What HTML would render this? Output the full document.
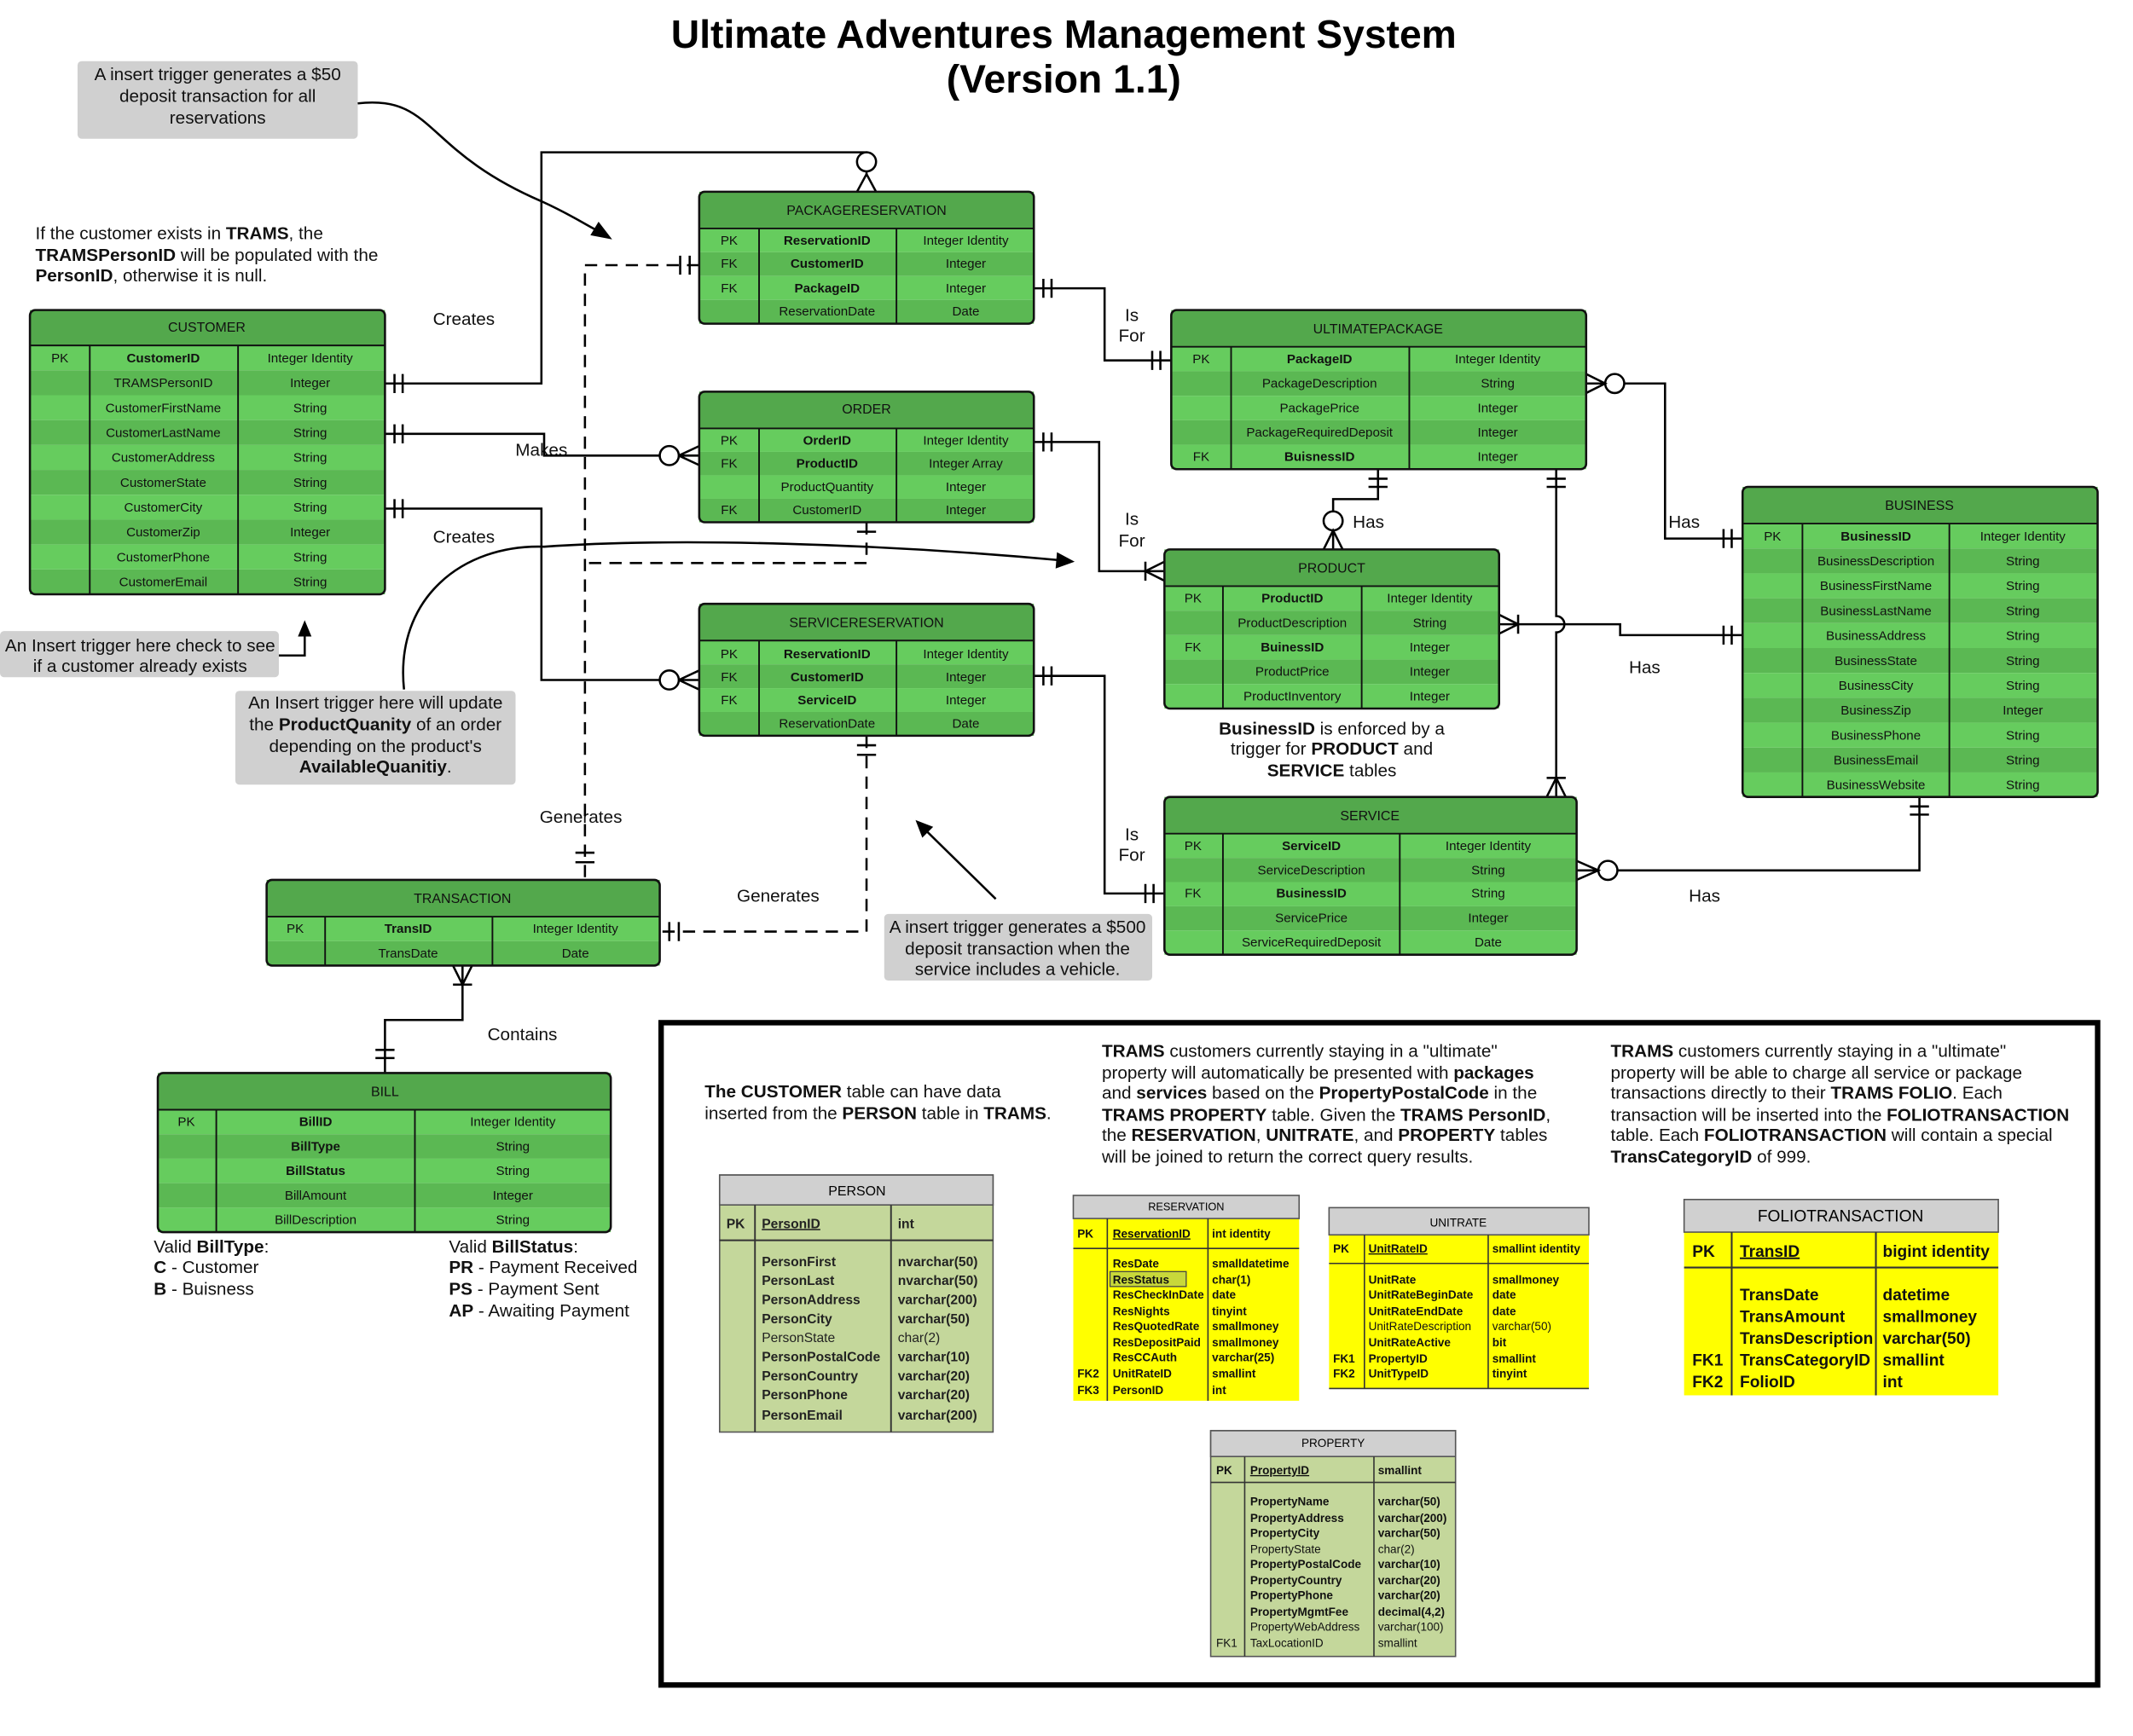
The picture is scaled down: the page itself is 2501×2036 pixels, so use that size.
<!DOCTYPE html>
<html><head><meta charset="utf-8"><style>
html,body{margin:0;padding:0;background:#fff;}
svg{display:block;font-family:"Liberation Sans",sans-serif;}
.t{font-size:9.5px;text-anchor:middle;fill:#111;}
.b{font-weight:bold;}
.h{font-size:10px;text-anchor:middle;fill:#111;}
.n{font-size:13px;fill:#111;}
.c{text-anchor:middle;}
.ln{fill:none;stroke:#000;stroke-width:1.6;}
.ds{fill:none;stroke:#000;stroke-width:1.6;stroke-dasharray:9,6;}
.L{fill:#66cc5e;}.D{fill:#5bb853;}.H{fill:#53a84c;}
.k{font-size:8.5px;font-weight:bold;fill:#111;}
.kn{font-size:8.5px;fill:#333;}
</style></head><body>
<svg width="2501" height="2036" viewBox="0 0 1568 1276.5" preserveAspectRatio="none">
<rect width="1568" height="1277" fill="#fff"/>
<text x="782" y="35" class="c" style="font-size:29px;font-weight:bold">Ultimate Adventures Management System</text>
<text x="782" y="68" class="c" style="font-size:29px;font-weight:bold">(Version 1.1)</text>

<!-- notes -->
<rect x="57" y="45" width="206" height="57" rx="3" fill="#d0d0d0"/>
<text class="n c" x="160" y="59">A insert trigger generates a $50</text>
<text class="n c" x="160" y="75">deposit transaction for all</text>
<text class="n c" x="160" y="91">reservations</text>
<text class="n" x="26" y="176">If the customer exists in <tspan class="b">TRAMS</tspan>, the</text>
<text class="n" x="26" y="192"><tspan class="b">TRAMSPersonID</tspan> will be populated with the</text>
<text class="n" x="26" y="207"><tspan class="b">PersonID</tspan>, otherwise it is null.</text>
<rect x="0" y="464" width="205" height="34" rx="3" fill="#d0d0d0"/>
<text class="n c" x="103" y="479">An Insert trigger here check to see</text>
<text class="n c" x="103" y="494">if a customer already exists</text>
<rect x="173" y="508" width="206" height="69" rx="3" fill="#d0d0d0"/>
<text class="n c" x="276" y="521">An Insert trigger here will update</text>
<text class="n c" x="276" y="537">the <tspan class="b">ProductQuanity</tspan> of an order</text>
<text class="n c" x="276" y="553">depending on the product's</text>
<text class="n c b" x="276" y="568">AvailableQuanitiy<tspan style="font-weight:normal">.</tspan></text>
<rect x="650" y="672" width="197" height="49" rx="3" fill="#d0d0d0"/>
<text class="n c" x="748" y="686">A insert trigger generates a $500</text>
<text class="n c" x="748" y="702">deposit transaction when the</text>
<text class="n c" x="748" y="717">service includes a vehicle.</text>
<text class="n c" x="979" y="540"><tspan class="b">BusinessID</tspan> is enforced by a</text>
<text class="n c" x="979" y="555">trigger for <tspan class="b">PRODUCT</tspan> and</text>
<text class="n c" x="979" y="571"><tspan class="b">SERVICE</tspan> tables</text>
<text class="n" x="113" y="921">Valid <tspan class="b">BillType</tspan>:</text>
<text class="n" x="113" y="936"><tspan class="b">C</tspan> - Customer</text>
<text class="n" x="113" y="952"><tspan class="b">B</tspan> - Buisness</text>
<text class="n" x="330" y="921">Valid <tspan class="b">BillStatus</tspan>:</text>
<text class="n" x="330" y="936"><tspan class="b">PR</tspan> - Payment Received</text>
<text class="n" x="330" y="952"><tspan class="b">PS</tspan> - Payment Sent</text>
<text class="n" x="330" y="968"><tspan class="b">AP</tspan> - Awaiting Payment</text>

<!-- relationship labels -->
<g class="n">
<text x="341" y="239" class="c">Creates</text>
<text x="398" y="335" class="c">Makes</text>
<text x="341" y="399" class="c">Creates</text>
<text x="832" y="236" class="c">Is</text><text x="832" y="251" class="c">For</text>
<text x="832" y="386" class="c">Is</text><text x="832" y="402" class="c">For</text>
<text x="832" y="618" class="c">Is</text><text x="832" y="633" class="c">For</text>
<text x="1006" y="388" class="c">Has</text>
<text x="1238" y="388" class="c">Has</text>
<text x="1209" y="495" class="c">Has</text>
<text x="1253" y="663" class="c">Has</text>
<text x="427" y="605" class="c">Generates</text>
<text x="572" y="663" class="c">Generates</text>
<text x="384" y="765" class="c">Contains</text>
</g>

<!-- connectors -->
<g class="ln">
<path d="M283 282 H398 V112 H637 V128"/>
<path d="M290 275 V289 M296 275 V289"/>
<circle cx="637" cy="119" r="7" fill="#fff"/>
<path d="M630 141 L637 128 L644 141"/>
<path d="M283 319 H400 V335 H485"/>
<path d="M290 312 V326 M296 312 V326"/>
<circle cx="492" cy="335" r="7" fill="#fff"/>
<path d="M499 335 H514 M499 335 L514 328 M499 335 L514 342"/>
<path d="M283 374 H398 V500 H485"/>
<path d="M290 367 V381 M296 367 V381"/>
<circle cx="492" cy="500" r="7" fill="#fff"/>
<path d="M499 500 H514 M499 500 L514 493 M499 500 L514 507"/>
<path d="M760 212 H812 V265 H861"/>
<path d="M767 205 V219 M773 205 V219 M847 258 V272 M853 258 V272"/>
<path d="M760 325 H808 V420 H856"/>
<path d="M767 318 V332 M773 318 V332 M842 420 L856 413 M842 420 L856 427 M842 413 V427"/>
<path d="M760 497 H812 V657 H856"/>
<path d="M767 490 V504 M773 490 V504 M842 650 V664 M848 650 V664"/>
<path d="M1013 345 V367 H980 V376"/>
<path d="M1006 352 H1020 M1006 358 H1020"/>
<circle cx="980" cy="383" r="7" fill="#fff"/>
<path d="M980 390 V404 M973 404 L980 390 L987 404"/>
<path d="M1144 345 V453 A6 6 0 0 1 1144 465 V586"/>
<path d="M1137 352 H1151 M1137 358 H1151 M1137 586 L1144 572 L1151 586 M1137 572 H1151"/>
<path d="M1166 282 H1180"/>
<circle cx="1187" cy="282" r="7" fill="#fff"/>
<path d="M1166 275 L1180 282 L1166 289 M1194 282 H1224 V396 H1281 M1267 389 V403 M1273 389 V403"/>
<path d="M1102 459 H1191 V467 H1281 M1102 452 L1116 459 L1102 466 M1116 452 V466 M1267 460 V474 M1273 460 V474"/>
<path d="M1159 640 H1175"/>
<circle cx="1182" cy="640" r="7" fill="#fff"/>
<path d="M1159 633 L1175 640 L1159 647 M1189 640 H1411 V586 M1404 593 H1418 M1404 599 H1418"/>
<path d="M340 710 V750 H283 V789 M333 710 L340 724 L347 710 M333 724 H347 M276 772 H290 M276 778 H290"/>
</g>
<g>
<path class="ds" d="M514 195 H430 V647"/>
<path class="ln" d="M500 188 V202 M507 188 V202 M423 627 H437 M423 634 H437"/>
<path class="ds" d="M637 384 V414 H430"/>
<path class="ln" d="M630 391 H644"/>
<path class="ds" d="M637 541 V685 H485"/>
<path class="ln" d="M630 548 H644 M630 555 H644 M492 678 V692 M499 678 V692"/>
</g>
<!-- arrows -->
<g class="ln">
<path d="M263 76 C320 70 310 110 398 148 C420 158 430 165 440 170"/>
<path d="M297 507 C290 440 340 400 400 402 C500 395 650 400 780 412"/>
<path d="M205 482 H224 V466"/>
<path d="M732 661 L680 610"/>
</g>
<path d="M450 176 L434 173 L440 163 Z"/>
<path d="M790 413 L776 418 L777 406 Z"/>
<path d="M224 456 L219 468 L229 468 Z"/>
<path d="M673 603 L678 616 L686 608 Z"/>

<!-- PACKAGERESERVATION -->
<g>
<rect x="514" y="141" width="246" height="27" class="H"/>
<rect x="514" y="168" width="246" height="17.5" class="L"/><rect x="514" y="185.5" width="246" height="17.5" class="D"/>
<rect x="514" y="203" width="246" height="17.5" class="L"/><rect x="514" y="220.5" width="246" height="17.5" class="D"/>
<path d="M514 168 H760 M558 168 V238 M659 168 V238" stroke="#111" stroke-width="1.2"/>
<rect x="514" y="141" width="246" height="97" rx="4" fill="none" stroke="#111" stroke-width="1.6"/>
<text class="h" x="637" y="158">PACKAGERESERVATION</text>
<text class="t" x="536" y="180">PK</text><text class="t b" x="608" y="180">ReservationID</text><text class="t" x="710" y="180">Integer Identity</text>
<text class="t" x="536" y="197">FK</text><text class="t b" x="608" y="197">CustomerID</text><text class="t" x="710" y="197">Integer</text>
<text class="t" x="536" y="215">FK</text><text class="t b" x="608" y="215">PackageID</text><text class="t" x="710" y="215">Integer</text>
<text class="t" x="608" y="232">ReservationDate</text><text class="t" x="710" y="232">Date</text>
</g>
<!-- ORDER -->
<g>
<rect x="514" y="288" width="246" height="27" class="H"/>
<rect x="514" y="315" width="246" height="17.25" class="L"/><rect x="514" y="332.25" width="246" height="17.25" class="D"/>
<rect x="514" y="349.5" width="246" height="17.25" class="L"/><rect x="514" y="366.75" width="246" height="17.25" class="D"/>
<path d="M514 315 H760 M558 315 V384 M659 315 V384" stroke="#111" stroke-width="1.2"/>
<rect x="514" y="288" width="246" height="96" rx="4" fill="none" stroke="#111" stroke-width="1.6"/>
<text class="h" x="637" y="304">ORDER</text>
<text class="t" x="536" y="327">PK</text><text class="t b" x="608" y="327">OrderID</text><text class="t" x="710" y="327">Integer Identity</text>
<text class="t" x="536" y="344">FK</text><text class="t b" x="608" y="344">ProductID</text><text class="t" x="710" y="344">Integer Array</text>
<text class="t" x="608" y="361">ProductQuantity</text><text class="t" x="710" y="361">Integer</text>
<text class="t" x="536" y="378">FK</text><text class="t" x="608" y="378">CustomerID</text><text class="t" x="710" y="378">Integer</text>
</g>
<!-- SERVICERESERVATION -->
<g>
<rect x="514" y="444" width="246" height="27" class="H"/>
<rect x="514" y="471" width="246" height="17.5" class="L"/><rect x="514" y="488.5" width="246" height="17.5" class="D"/>
<rect x="514" y="506" width="246" height="17.5" class="L"/><rect x="514" y="523.5" width="246" height="17.5" class="D"/>
<path d="M514 471 H760 M558 471 V541 M659 471 V541" stroke="#111" stroke-width="1.2"/>
<rect x="514" y="444" width="246" height="97" rx="4" fill="none" stroke="#111" stroke-width="1.6"/>
<text class="h" x="637" y="461">SERVICERESERVATION</text>
<text class="t" x="536" y="484">PK</text><text class="t b" x="608" y="484">ReservationID</text><text class="t" x="710" y="484">Integer Identity</text>
<text class="t" x="536" y="501">FK</text><text class="t b" x="608" y="501">CustomerID</text><text class="t" x="710" y="501">Integer</text>
<text class="t" x="536" y="518">FK</text><text class="t b" x="608" y="518">ServiceID</text><text class="t" x="710" y="518">Integer</text>
<text class="t" x="608" y="535">ReservationDate</text><text class="t" x="710" y="535">Date</text>
</g>
<!-- CUSTOMER -->
<g>
<rect x="22" y="228" width="261" height="26" class="H"/>
<rect x="22" y="254" width="261" height="18.3" class="L"/><rect x="22" y="272.3" width="261" height="18.3" class="D"/>
<rect x="22" y="290.6" width="261" height="18.3" class="L"/><rect x="22" y="308.9" width="261" height="18.3" class="D"/>
<rect x="22" y="327.2" width="261" height="18.3" class="L"/><rect x="22" y="345.5" width="261" height="18.3" class="D"/>
<rect x="22" y="363.8" width="261" height="18.3" class="L"/><rect x="22" y="382.1" width="261" height="18.3" class="D"/>
<rect x="22" y="400.4" width="261" height="18.3" class="L"/><rect x="22" y="418.7" width="261" height="18.3" class="D"/>
<path d="M22 254 H283 M66 254 V437 M175 254 V437" stroke="#111" stroke-width="1.2"/>
<rect x="22" y="228" width="261" height="209" rx="4" fill="none" stroke="#111" stroke-width="1.6"/>
<text class="h" x="152" y="244">CUSTOMER</text>
<text class="t" x="44" y="266.5">PK</text><text class="t b" x="120" y="266.5">CustomerID</text><text class="t" x="228" y="266.5">Integer Identity</text>
<text class="t" x="120" y="284.8">TRAMSPersonID</text><text class="t" x="228" y="284.8">Integer</text>
<text class="t" x="120" y="303">CustomerFirstName</text><text class="t" x="228" y="303">String</text>
<text class="t" x="120" y="321.3">CustomerLastName</text><text class="t" x="228" y="321.3">String</text>
<text class="t" x="120" y="339.6">CustomerAddress</text><text class="t" x="228" y="339.6">String</text>
<text class="t" x="120" y="357.9">CustomerState</text><text class="t" x="228" y="357.9">String</text>
<text class="t" x="120" y="376.2">CustomerCity</text><text class="t" x="228" y="376.2">String</text>
<text class="t" x="120" y="394.5">CustomerZip</text><text class="t" x="228" y="394.5">Integer</text>
<text class="t" x="120" y="412.8">CustomerPhone</text><text class="t" x="228" y="412.8">String</text>
<text class="t" x="120" y="431.1">CustomerEmail</text><text class="t" x="228" y="431.1">String</text>
</g>
<!-- ULTIMATEPACKAGE -->
<g>
<rect x="861" y="228" width="305" height="27" class="H"/>
<rect x="861" y="255" width="305" height="18" class="L"/><rect x="861" y="273" width="305" height="18" class="D"/>
<rect x="861" y="291" width="305" height="18" class="L"/><rect x="861" y="309" width="305" height="18" class="D"/>
<rect x="861" y="327" width="305" height="18" class="L"/>
<path d="M861 255 H1166 M905 255 V345 M1036 255 V345" stroke="#111" stroke-width="1.2"/>
<rect x="861" y="228" width="305" height="117" rx="4" fill="none" stroke="#111" stroke-width="1.6"/>
<text class="h" x="1013" y="245">ULTIMATEPACKAGE</text>
<text class="t" x="883" y="267">PK</text><text class="t b" x="970" y="267">PackageID</text><text class="t" x="1101" y="267">Integer Identity</text>
<text class="t" x="970" y="285">PackageDescription</text><text class="t" x="1101" y="285">String</text>
<text class="t" x="970" y="303">PackagePrice</text><text class="t" x="1101" y="303">Integer</text>
<text class="t" x="970" y="321">PackageRequiredDeposit</text><text class="t" x="1101" y="321">Integer</text>
<text class="t" x="883" y="339">FK</text><text class="t b" x="970" y="339">BuisnessID</text><text class="t" x="1101" y="339">Integer</text>
</g>
<!-- PRODUCT -->
<g>
<rect x="856" y="404" width="246" height="27" class="H"/>
<rect x="856" y="431" width="246" height="18" class="L"/><rect x="856" y="449" width="246" height="18" class="D"/>
<rect x="856" y="467" width="246" height="18" class="L"/><rect x="856" y="485" width="246" height="18" class="D"/>
<rect x="856" y="503" width="246" height="18" class="L"/>
<path d="M856 431 H1102 M899 431 V521 M1001 431 V521" stroke="#111" stroke-width="1.2"/>
<rect x="856" y="404" width="246" height="117" rx="4" fill="none" stroke="#111" stroke-width="1.6"/>
<text class="h" x="979" y="421">PRODUCT</text>
<text class="t" x="877" y="443">PK</text><text class="t b" x="950" y="443">ProductID</text><text class="t" x="1051" y="443">Integer Identity</text>
<text class="t" x="950" y="461">ProductDescription</text><text class="t" x="1051" y="461">String</text>
<text class="t" x="877" y="479">FK</text><text class="t b" x="950" y="479">BuinessID</text><text class="t" x="1051" y="479">Integer</text>
<text class="t" x="950" y="497">ProductPrice</text><text class="t" x="1051" y="497">Integer</text>
<text class="t" x="950" y="515">ProductInventory</text><text class="t" x="1051" y="515">Integer</text>
</g>
<!-- SERVICE -->
<g>
<rect x="856" y="586" width="303" height="27" class="H"/>
<rect x="856" y="613" width="303" height="17.8" class="L"/><rect x="856" y="630.8" width="303" height="17.8" class="D"/>
<rect x="856" y="648.6" width="303" height="17.8" class="L"/><rect x="856" y="666.4" width="303" height="17.8" class="D"/>
<rect x="856" y="684.2" width="303" height="17.8" class="L"/>
<path d="M856 613 H1159 M899 613 V702 M1029 613 V702" stroke="#111" stroke-width="1.2"/>
<rect x="856" y="586" width="303" height="116" rx="4" fill="none" stroke="#111" stroke-width="1.6"/>
<text class="h" x="1007" y="603">SERVICE</text>
<text class="t" x="877" y="625">PK</text><text class="t b" x="964" y="625">ServiceID</text><text class="t" x="1094" y="625">Integer Identity</text>
<text class="t" x="964" y="643">ServiceDescription</text><text class="t" x="1094" y="643">String</text>
<text class="t" x="877" y="660">FK</text><text class="t b" x="964" y="660">BusinessID</text><text class="t" x="1094" y="660">String</text>
<text class="t" x="964" y="678">ServicePrice</text><text class="t" x="1094" y="678">Integer</text>
<text class="t" x="964" y="696">ServiceRequiredDeposit</text><text class="t" x="1094" y="696">Date</text>
</g>
<!-- BUSINESS -->
<g>
<rect x="1281" y="358" width="261" height="27" class="H"/>
<rect x="1281" y="385" width="261" height="18.3" class="L"/><rect x="1281" y="403.3" width="261" height="18.3" class="D"/>
<rect x="1281" y="421.6" width="261" height="18.3" class="L"/><rect x="1281" y="439.9" width="261" height="18.3" class="D"/>
<rect x="1281" y="458.2" width="261" height="18.3" class="L"/><rect x="1281" y="476.5" width="261" height="18.3" class="D"/>
<rect x="1281" y="494.8" width="261" height="18.3" class="L"/><rect x="1281" y="513.1" width="261" height="18.3" class="D"/>
<rect x="1281" y="531.4" width="261" height="18.3" class="L"/><rect x="1281" y="549.7" width="261" height="18.3" class="D"/>
<rect x="1281" y="568" width="261" height="18" class="L"/>
<path d="M1281 385 H1542 M1325 385 V586 M1433 385 V586" stroke="#111" stroke-width="1.2"/>
<rect x="1281" y="358" width="261" height="228" rx="4" fill="none" stroke="#111" stroke-width="1.6"/>
<text class="h" x="1411" y="375">BUSINESS</text>
<text class="t" x="1303" y="397.5">PK</text><text class="t b" x="1379" y="397.5">BusinessID</text><text class="t" x="1487" y="397.5">Integer Identity</text>
<text class="t" x="1379" y="415.8">BusinessDescription</text><text class="t" x="1487" y="415.8">String</text>
<text class="t" x="1379" y="434">BusinessFirstName</text><text class="t" x="1487" y="434">String</text>
<text class="t" x="1379" y="452.3">BusinessLastName</text><text class="t" x="1487" y="452.3">String</text>
<text class="t" x="1379" y="470.6">BusinessAddress</text><text class="t" x="1487" y="470.6">String</text>
<text class="t" x="1379" y="488.9">BusinessState</text><text class="t" x="1487" y="488.9">String</text>
<text class="t" x="1379" y="507.2">BusinessCity</text><text class="t" x="1487" y="507.2">String</text>
<text class="t" x="1379" y="525.5">BusinessZip</text><text class="t" x="1487" y="525.5">Integer</text>
<text class="t" x="1379" y="543.8">BusinessPhone</text><text class="t" x="1487" y="543.8">String</text>
<text class="t" x="1379" y="562.1">BusinessEmail</text><text class="t" x="1487" y="562.1">String</text>
<text class="t" x="1379" y="580.4">BusinessWebsite</text><text class="t" x="1487" y="580.4">String</text>
</g>
<!-- TRANSACTION -->
<g>
<rect x="196" y="647" width="289" height="27" class="H"/>
<rect x="196" y="674" width="289" height="18" class="L"/><rect x="196" y="692" width="289" height="18" class="D"/>
<path d="M196 674 H485 M239 674 V710 M362 674 V710" stroke="#111" stroke-width="1.2"/>
<rect x="196" y="647" width="289" height="63" rx="4" fill="none" stroke="#111" stroke-width="1.6"/>
<text class="h" x="340" y="664">TRANSACTION</text>
<text class="t" x="217" y="686">PK</text><text class="t b" x="300" y="686">TransID</text><text class="t" x="423" y="686">Integer Identity</text>
<text class="t" x="300" y="704">TransDate</text><text class="t" x="423" y="704">Date</text>
</g>
<!-- BILL -->
<g>
<rect x="116" y="789" width="333" height="27" class="H"/>
<rect x="116" y="816" width="333" height="18" class="L"/><rect x="116" y="834" width="333" height="18" class="D"/>
<rect x="116" y="852" width="333" height="18" class="L"/><rect x="116" y="870" width="333" height="18" class="D"/>
<rect x="116" y="888" width="333" height="18" class="L"/>
<path d="M116 816 H449 M159 816 V906 M305 816 V906" stroke="#111" stroke-width="1.2"/>
<rect x="116" y="789" width="333" height="117" rx="4" fill="none" stroke="#111" stroke-width="1.6"/>
<text class="h" x="283" y="806">BILL</text>
<text class="t" x="137" y="828">PK</text><text class="t b" x="232" y="828">BillID</text><text class="t" x="377" y="828">Integer Identity</text>
<text class="t b" x="232" y="846">BillType</text><text class="t" x="377" y="846">String</text>
<text class="t b" x="232" y="864">BillStatus</text><text class="t" x="377" y="864">String</text>
<text class="t" x="232" y="882">BillAmount</text><text class="t" x="377" y="882">Integer</text>
<text class="t" x="232" y="900">BillDescription</text><text class="t" x="377" y="900">String</text>
</g>

<!-- bottom box -->
<rect x="486" y="752" width="1056" height="487" fill="none" stroke="#000" stroke-width="4"/>
<text class="n" x="518" y="807"><tspan class="b">The CUSTOMER</tspan> table can have data</text>
<text class="n" x="518" y="823">inserted from the <tspan class="b">PERSON</tspan> table in <tspan class="b">TRAMS</tspan>.</text>
<g class="n">
<text x="810" y="777"><tspan class="b">TRAMS</tspan> customers currently staying in a "ultimate"</text>
<text x="810" y="793">property will automatically be presented with <tspan class="b">packages</tspan></text>
<text x="810" y="808">and <tspan class="b">services</tspan> based on the <tspan class="b">PropertyPostalCode</tspan> in the</text>
<text x="810" y="824"><tspan class="b">TRAMS PROPERTY</tspan> table. Given the <tspan class="b">TRAMS PersonID</tspan>,</text>
<text x="810" y="839">the <tspan class="b">RESERVATION</tspan>, <tspan class="b">UNITRATE</tspan>, and <tspan class="b">PROPERTY</tspan> tables</text>
<text x="810" y="855">will be joined to return the correct query results.</text>
<text x="1184" y="777"><tspan class="b">TRAMS</tspan> customers currently staying in a "ultimate"</text>
<text x="1184" y="793">property will be able to charge all service or package</text>
<text x="1184" y="808">transactions directly to their <tspan class="b">TRAMS FOLIO</tspan>. Each</text>
<text x="1184" y="824">transaction will be inserted into the <tspan class="b">FOLIOTRANSACTION</tspan></text>
<text x="1184" y="839">table. Each <tspan class="b">FOLIOTRANSACTION</tspan> will contain a special</text>
<text x="1184" y="855"><tspan class="b">TransCategoryID</tspan> of 999.</text>
</g>

<!-- PERSON -->
<g>
<rect x="529" y="864" width="201" height="189" fill="#c4d79b" stroke="#555" stroke-width="1"/>
<rect x="529" y="864" width="201" height="22" fill="#d0d0d0" stroke="#555" stroke-width="1"/>
<path d="M529 912 H730 M555 886 V1053 M655 886 V1053" stroke="#333" stroke-width="1.2"/>
<text x="630" y="879" style="font-size:10px" class="c">PERSON</text>
<g style="font-size:9.8px;font-weight:bold;fill:#222">
<text x="534" y="903">PK</text><text x="560" y="903" text-decoration="underline">PersonID</text><text x="660" y="903">int</text>
<text x="560" y="931">PersonFirst</text><text x="660" y="931">nvarchar(50)</text>
<text x="560" y="945">PersonLast</text><text x="660" y="945">nvarchar(50)</text>
<text x="560" y="959">PersonAddress</text><text x="660" y="959">varchar(200)</text>
<text x="560" y="973">PersonCity</text><text x="660" y="973">varchar(50)</text>
<text x="560" y="987" style="font-weight:normal">PersonState</text><text x="660" y="987" style="font-weight:normal">char(2)</text>
<text x="560" y="1001">PersonPostalCode</text><text x="660" y="1001">varchar(10)</text>
<text x="560" y="1015">PersonCountry</text><text x="660" y="1015">varchar(20)</text>
<text x="560" y="1029">PersonPhone</text><text x="660" y="1029">varchar(20)</text>
<text x="560" y="1044">PersonEmail</text><text x="660" y="1044">varchar(200)</text>
</g>
</g>
<!-- RESERVATION -->
<g>
<rect x="789" y="879" width="166" height="151" fill="#ffff00"/>
<rect x="789" y="879" width="166" height="17" fill="#d0d0d0" stroke="#555" stroke-width="1"/>
<path d="M789 918 H955 M814 896 V1030 M888 896 V1030" stroke="#333" stroke-width="1"/>
<rect x="816" y="935" width="56" height="11" fill="#c8d83a" stroke="#444" stroke-width="0.8"/>
<text x="872" y="890" style="font-size:8px" class="c">RESERVATION</text>
<g class="k">
<text x="792" y="910">PK</text><text x="818" y="910" text-decoration="underline">ReservationID</text><text x="891" y="910">int identity</text>
<text x="818" y="932">ResDate</text><text x="891" y="932">smalldatetime</text>
<text x="818" y="944">ResStatus</text><text x="891" y="944">char(1)</text>
<text x="818" y="955">ResCheckInDate</text><text x="891" y="955">date</text>
<text x="818" y="967">ResNights</text><text x="891" y="967">tinyint</text>
<text x="818" y="978">ResQuotedRate</text><text x="891" y="978">smallmoney</text>
<text x="818" y="990">ResDepositPaid</text><text x="891" y="990">smallmoney</text>
<text x="818" y="1001">ResCCAuth</text><text x="891" y="1001">varchar(25)</text>
<text x="792" y="1013">FK2</text><text x="818" y="1013">UnitRateID</text><text x="891" y="1013">smallint</text>
<text x="792" y="1025">FK3</text><text x="818" y="1025">PersonID</text><text x="891" y="1025">int</text>
</g>
</g>
<!-- UNITRATE -->
<g>
<rect x="977" y="888" width="191" height="133" fill="#ffff00"/>
<rect x="977" y="888" width="191" height="20" fill="#d0d0d0" stroke="#555" stroke-width="1"/>
<path d="M977 929 H1168 M1003 908 V1021 M1094 908 V1021 M977 1021 H1168" stroke="#333" stroke-width="1"/>
<text x="1072" y="902" style="font-size:8.5px" class="c">UNITRATE</text>
<g class="k">
<text x="980" y="921">PK</text><text x="1006" y="921" text-decoration="underline">UnitRateID</text><text x="1097" y="921">smallint identity</text>
<text x="1006" y="944">UnitRate</text><text x="1097" y="944">smallmoney</text>
<text x="1006" y="955">UnitRateBeginDate</text><text x="1097" y="955">date</text>
<text x="1006" y="967">UnitRateEndDate</text><text x="1097" y="967">date</text>
<text x="1006" y="978" style="font-weight:normal">UnitRateDescription</text><text x="1097" y="978" style="font-weight:normal">varchar(50)</text>
<text x="1006" y="990">UnitRateActive</text><text x="1097" y="990">bit</text>
<text x="980" y="1002">FK1</text><text x="1006" y="1002">PropertyID</text><text x="1097" y="1002">smallint</text>
<text x="980" y="1013">FK2</text><text x="1006" y="1013">UnitTypeID</text><text x="1097" y="1013">tinyint</text>
</g>
</g>
<!-- FOLIOTRANSACTION -->
<g>
<rect x="1238" y="882" width="231" height="144" fill="#ffff00"/>
<rect x="1238" y="882" width="231" height="24" fill="#d0d0d0" stroke="#555" stroke-width="1"/>
<path d="M1238 932 H1469 M1273 906 V1026 M1379 906 V1026" stroke="#333" stroke-width="1.3"/>
<text x="1353" y="898" style="font-size:12px" class="c">FOLIOTRANSACTION</text>
<g style="font-size:12px;font-weight:bold;fill:#111">
<text x="1244" y="924">PK</text><text x="1279" y="924" text-decoration="underline">TransID</text><text x="1384" y="924">bigint identity</text>
<text x="1279" y="956">TransDate</text><text x="1384" y="956">datetime</text>
<text x="1279" y="972">TransAmount</text><text x="1384" y="972">smallmoney</text>
<text x="1279" y="988">TransDescription</text><text x="1384" y="988">varchar(50)</text>
<text x="1244" y="1004">FK1</text><text x="1279" y="1004">TransCategoryID</text><text x="1384" y="1004">smallint</text>
<text x="1244" y="1020">FK2</text><text x="1279" y="1020">FolioID</text><text x="1384" y="1020">int</text>
</g>
</g>
<!-- PROPERTY -->
<g>
<rect x="890" y="1052" width="180" height="166" fill="#c4d79b" stroke="#555" stroke-width="1"/>
<rect x="890" y="1052" width="180" height="19" fill="#d0d0d0" stroke="#555" stroke-width="1"/>
<path d="M890 1090 H1070 M915 1071 V1218 M1010 1071 V1218" stroke="#333" stroke-width="1"/>
<text x="980" y="1064" style="font-size:8.5px" class="c">PROPERTY</text>
<g class="k">
<text x="894" y="1084">PK</text><text x="919" y="1084" text-decoration="underline">PropertyID</text><text x="1013" y="1084">smallint</text>
<text x="919" y="1107">PropertyName</text><text x="1013" y="1107">varchar(50)</text>
<text x="919" y="1119">PropertyAddress</text><text x="1013" y="1119">varchar(200)</text>
<text x="919" y="1130">PropertyCity</text><text x="1013" y="1130">varchar(50)</text>
<text x="919" y="1142" style="font-weight:normal">PropertyState</text><text x="1013" y="1142" style="font-weight:normal">char(2)</text>
<text x="919" y="1153">PropertyPostalCode</text><text x="1013" y="1153">varchar(10)</text>
<text x="919" y="1165">PropertyCountry</text><text x="1013" y="1165">varchar(20)</text>
<text x="919" y="1176">PropertyPhone</text><text x="1013" y="1176">varchar(20)</text>
<text x="919" y="1188">PropertyMgmtFee</text><text x="1013" y="1188">decimal(4,2)</text>
<text x="919" y="1199" style="font-weight:normal">PropertyWebAddress</text><text x="1013" y="1199" style="font-weight:normal">varchar(100)</text>
<text x="894" y="1211" style="font-weight:normal">FK1</text><text x="919" y="1211" style="font-weight:normal">TaxLocationID</text><text x="1013" y="1211" style="font-weight:normal">smallint</text>
</g>
</g>
</svg>
</body></html>
